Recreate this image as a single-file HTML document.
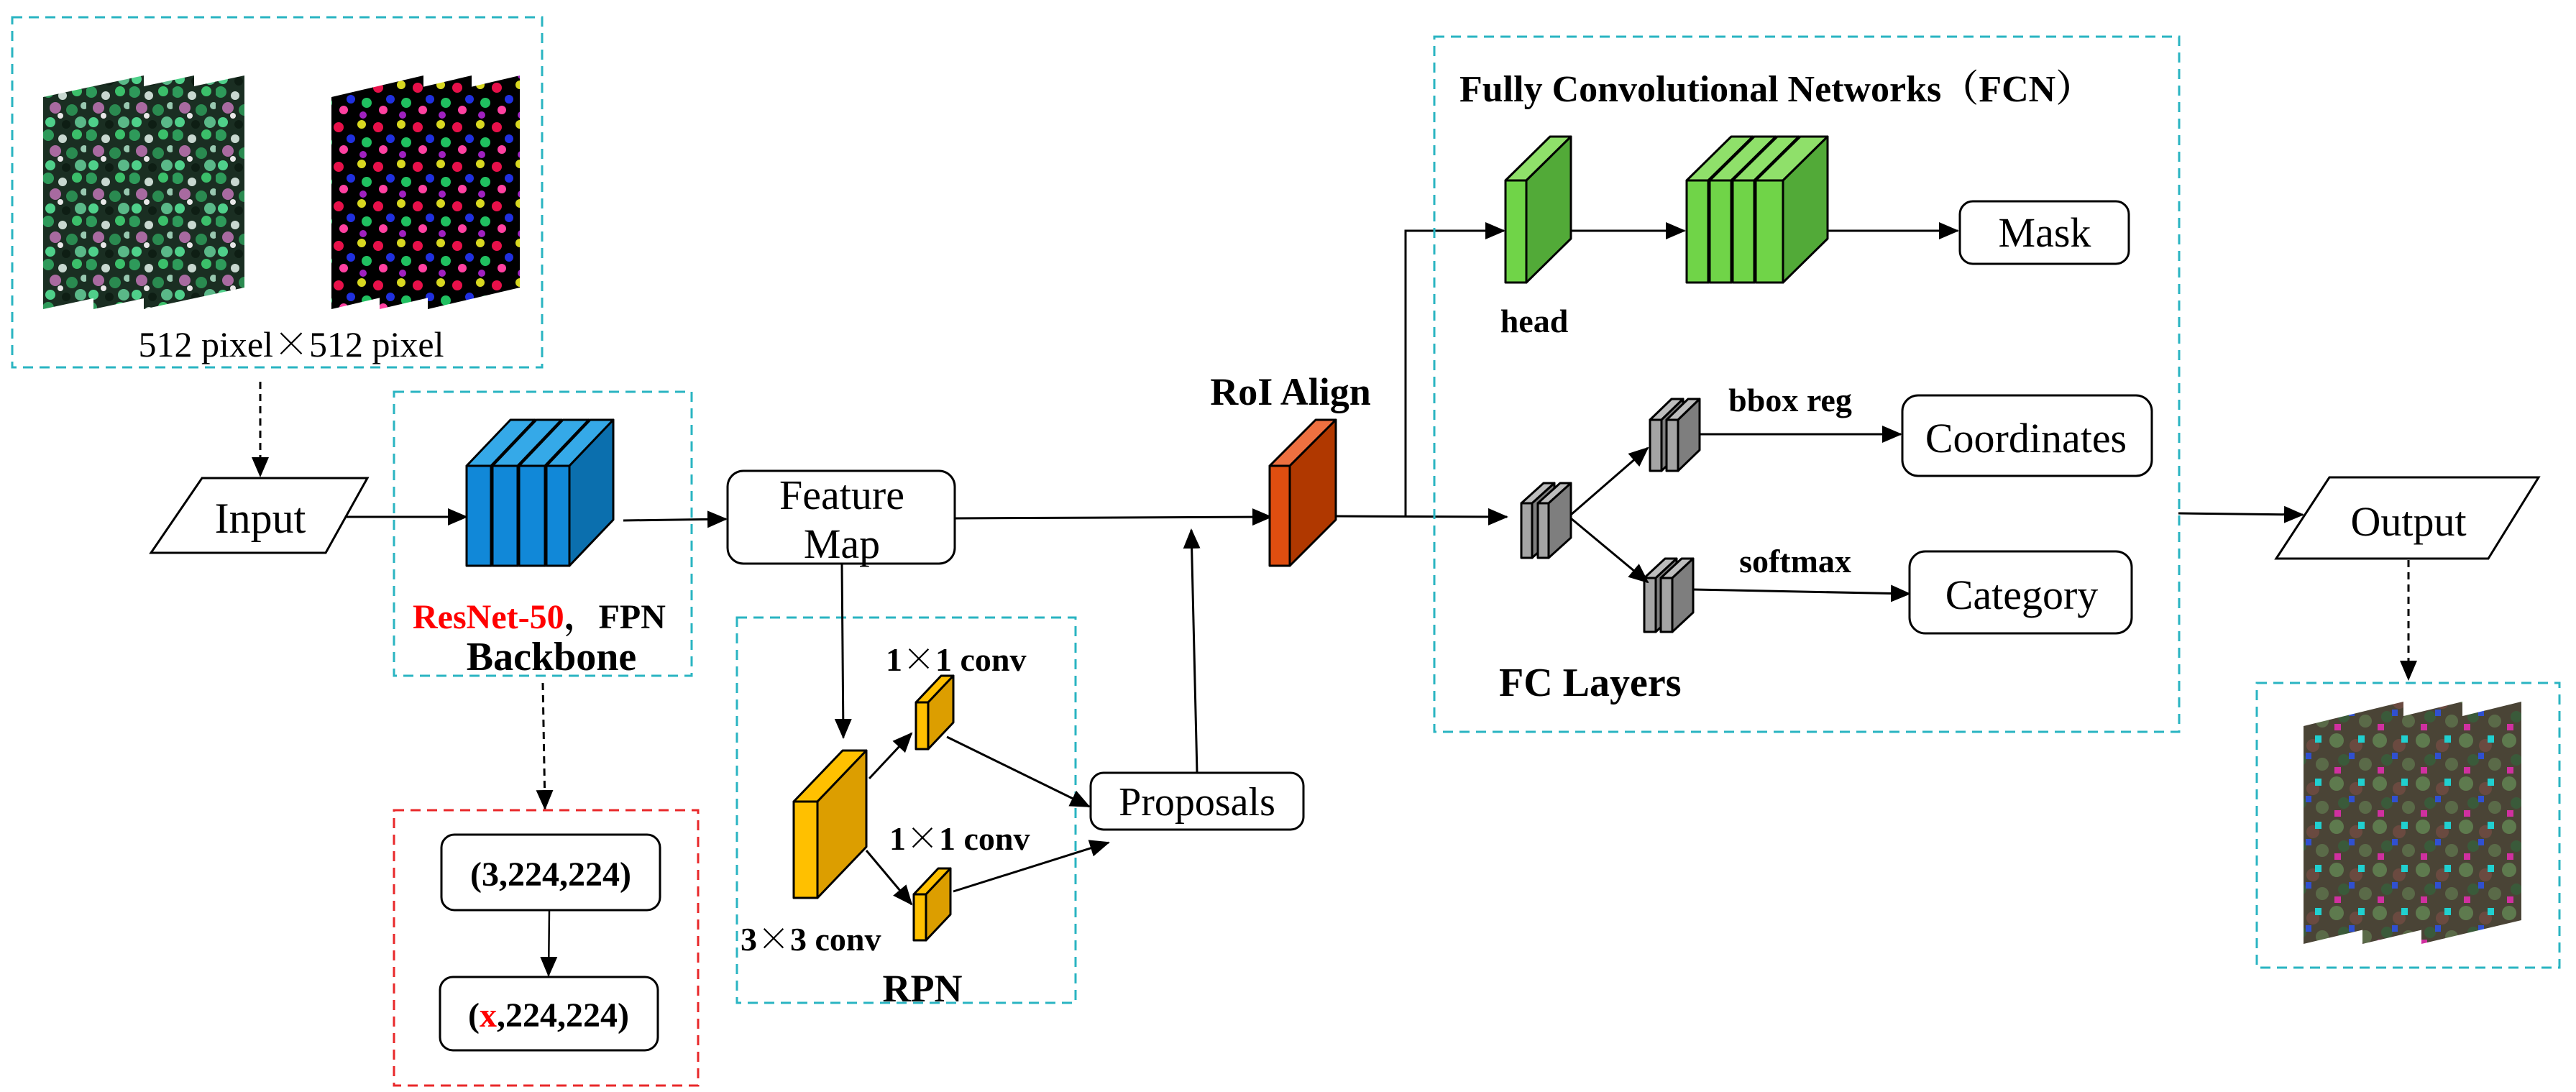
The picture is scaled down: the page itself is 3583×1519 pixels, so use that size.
<!DOCTYPE html>
<html><head><meta charset="utf-8"><style>
html,body{margin:0;padding:0;background:#fff;}
svg{display:block;}
svg text{font-family:"Liberation Serif","Noto Serif CJK SC",serif;fill:#000;}
.b{font-weight:bold;}
.cj{font-family:"Noto Serif CJK SC","Noto Sans CJK SC",serif;}
</style></head><body>
<svg width="3583" height="1519" viewBox="0 0 3583 1519" xmlns="http://www.w3.org/2000/svg" font-family="Liberation Serif, Noto Serif CJK SC, serif">
<defs>
<marker id="a" markerUnits="userSpaceOnUse" markerWidth="30" markerHeight="30" refX="26" refY="12" orient="auto">
<path d="M0,0 L28,12 L0,24 Z" fill="#000"/></marker>
<pattern id="p1" width="60" height="60" patternUnits="userSpaceOnUse">
<rect width="60" height="60" fill="#1a2e22"/>
<circle cx="7" cy="8" r="8" fill="#2e9a5a"/><circle cx="27" cy="13" r="6" fill="#c8d8d0"/>
<circle cx="47" cy="7" r="7" fill="#3bbf6a"/><circle cx="17" cy="30" r="8" fill="#a86aa0"/>
<circle cx="40" cy="33" r="8" fill="#2a8a50"/><circle cx="57" cy="27" r="5" fill="#98c8b0"/>
<circle cx="10" cy="50" r="7" fill="#4fd08a"/><circle cx="32" cy="53" r="6" fill="#0e1e14"/>
<circle cx="52" cy="50" r="8" fill="#5ab888"/><circle cx="24" cy="41" r="4" fill="#e8e8e8"/>
</pattern>
<pattern id="p2" width="55" height="55" patternUnits="userSpaceOnUse">
<rect width="55" height="55" fill="#000"/>
<circle cx="8" cy="8" r="6" fill="#d8d820"/><circle cx="31" cy="12" r="7" fill="#e8104a"/>
<circle cx="48" cy="28" r="6" fill="#2030e0"/><circle cx="15" cy="33" r="7" fill="#20c060"/>
<circle cx="38" cy="43" r="6" fill="#ff40a0"/><circle cx="10" cy="50" r="5" fill="#a020c0"/>
</pattern>
<pattern id="p3" width="60" height="60" patternUnits="userSpaceOnUse">
<rect width="60" height="60" fill="#4a4436"/>
<circle cx="10" cy="10" r="10" fill="#5e7a4e"/><circle cx="37" cy="17" r="9" fill="#6a4a40"/>
<circle cx="20" cy="37" r="8" fill="#3a5a3a"/><circle cx="50" cy="43" r="9" fill="#5a6a48"/>
<rect x="40" y="3" width="9" height="10" fill="#20d0d0"/><rect x="7" y="47" width="9" height="9" fill="#d030a0"/>
<rect x="27" y="27" width="8" height="9" fill="#3050d0"/>
</pattern>
</defs>

<rect x="17" y="24" width="737" height="487" fill="none" stroke="#2ab4c2" stroke-width="3" stroke-dasharray="14,9"/>
<polygon points="60,135 200,105 200,400 60,430" fill="url(#p1)"/>
<polygon points="130,135 270,105 270,400 130,430" fill="url(#p1)"/>
<polygon points="200,135 340,105 340,400 200,430" fill="url(#p1)"/>
<polygon points="461,135 589,105 589,400 461,430" fill="url(#p2)"/>
<polygon points="528,135 656,105 656,400 528,430" fill="url(#p2)"/>
<polygon points="595,135 723,105 723,400 595,430" fill="url(#p2)"/>
<text x="405" y="496" font-size="50" text-anchor="middle">512 pixel<tspan class="cj">×</tspan>512 pixel</text>
<line x1="362" y1="531" x2="362" y2="662" stroke="#000" stroke-width="3" stroke-dasharray="10,7" marker-end="url(#a)"/>

<polygon points="210,769 281,665 511,665 453,769" fill="#fff" stroke="#000" stroke-width="3"/>
<text x="362" y="741" font-size="60" text-anchor="middle">Input</text>
<line x1="482" y1="719" x2="649" y2="719" stroke="#000" stroke-width="3" marker-end="url(#a)"/>

<rect x="548" y="545" width="414" height="395" fill="none" stroke="#2ab4c2" stroke-width="3" stroke-dasharray="14,9"/>
<g stroke="#000" stroke-width="3" stroke-linejoin="round">
<rect x="649" y="648" width="34" height="139" fill="#1188d8"/><polygon points="649,648 710,584 744,584 683,648" fill="#35a9e8"/><polygon points="683,648 744,584 744,723 683,787" fill="#0b6fae"/>
<rect x="685" y="648" width="35" height="139" fill="#1188d8"/><polygon points="685,648 746,584 781,584 720,648" fill="#35a9e8"/><polygon points="720,648 781,584 781,723 720,787" fill="#0b6fae"/>
<rect x="722" y="648" width="36" height="139" fill="#1188d8"/><polygon points="722,648 783,584 819,584 758,648" fill="#35a9e8"/><polygon points="758,648 819,584 819,723 758,787" fill="#0b6fae"/>
<rect x="760" y="648" width="32" height="139" fill="#1188d8"/><polygon points="760,648 821,584 853,584 792,648" fill="#35a9e8"/><polygon points="792,648 853,584 853,723 792,787" fill="#0b6fae"/>
</g>
<text x="574" y="874" font-size="48" class="b"><tspan fill="#ff0000">ResNet-50</tspan><tspan class="cj">，</tspan>FPN</text>
<text x="767" y="932" font-size="56" class="b" text-anchor="middle">Backbone</text>
<line x1="867" y1="724" x2="1010" y2="722" stroke="#000" stroke-width="3" marker-end="url(#a)"/>
<line x1="755" y1="950" x2="758" y2="1125" stroke="#000" stroke-width="3" stroke-dasharray="10,7" marker-end="url(#a)"/>

<rect x="548" y="1127" width="423" height="383" fill="none" stroke="#e8282a" stroke-width="3" stroke-dasharray="14,9"/>
<rect x="614" y="1161" width="304" height="105" rx="18" fill="#fff" stroke="#000" stroke-width="3"/>
<text x="766" y="1232" font-size="48" class="b" text-anchor="middle">(3,224,224)</text>
<line x1="764" y1="1266" x2="763" y2="1357" stroke="#000" stroke-width="2.5" marker-end="url(#a)"/>
<rect x="612" y="1359" width="303" height="102" rx="18" fill="#fff" stroke="#000" stroke-width="3"/>
<text x="763" y="1428" font-size="48" class="b" text-anchor="middle">(<tspan fill="#ff0000">x</tspan>,224,224)</text>

<rect x="1012" y="655" width="316" height="129" rx="22" fill="#fff" stroke="#000" stroke-width="3"/>
<text x="1171" y="708" font-size="58" text-anchor="middle">Feature</text>
<text x="1171" y="776" font-size="58" text-anchor="middle">Map</text>
<line x1="1328" y1="721" x2="1768" y2="719" stroke="#000" stroke-width="3" marker-end="url(#a)"/>

<rect x="1025" y="859" width="471" height="536" fill="none" stroke="#2ab4c2" stroke-width="3" stroke-dasharray="14,9"/>
<line x1="1171" y1="784" x2="1173" y2="1026" stroke="#000" stroke-width="3" marker-end="url(#a)"/>
<g stroke="#000" stroke-width="3" stroke-linejoin="round">
<rect x="1104" y="1115" width="33" height="134" fill="#ffc000"/><polygon points="1104,1115 1172,1044 1205,1044 1137,1115" fill="#ffc000"/><polygon points="1137,1115 1205,1044 1205,1178 1137,1249" fill="#dc9e00"/>
<rect x="1274" y="977" width="17" height="65" fill="#ffc000"/><polygon points="1274,977 1309,940 1326,940 1291,977" fill="#ffc000"/><polygon points="1291,977 1326,940 1326,1005 1291,1042" fill="#dc9e00"/>
<rect x="1271" y="1244" width="17" height="64" fill="#ffc000"/><polygon points="1271,1244 1305,1208 1322,1208 1288,1244" fill="#ffc000"/><polygon points="1288,1244 1322,1208 1322,1272 1288,1308" fill="#dc9e00"/>
</g>
<line x1="1209" y1="1083" x2="1268" y2="1020" stroke="#000" stroke-width="3" marker-end="url(#a)"/>
<line x1="1205" y1="1183" x2="1268" y2="1258" stroke="#000" stroke-width="3" marker-end="url(#a)"/>
<line x1="1317" y1="1025" x2="1515" y2="1122" stroke="#000" stroke-width="3" marker-end="url(#a)"/>
<line x1="1326" y1="1240" x2="1542" y2="1172" stroke="#000" stroke-width="3" marker-end="url(#a)"/>
<text x="1232" y="933" font-size="46" class="b">1<tspan class="cj">×</tspan>1 conv</text>
<text x="1237" y="1182" font-size="46" class="b">1<tspan class="cj">×</tspan>1 conv</text>
<text x="1030" y="1322" font-size="46" class="b">3<tspan class="cj">×</tspan>3 conv</text>
<text x="1283" y="1393" font-size="54" class="b" text-anchor="middle">RPN</text>

<rect x="1517" y="1075" width="296" height="79" rx="18" fill="#fff" stroke="#000" stroke-width="3"/>
<text x="1665" y="1134" font-size="56" text-anchor="middle">Proposals</text>
<line x1="1665" y1="1075" x2="1657" y2="737" stroke="#000" stroke-width="3" marker-end="url(#a)"/>

<text x="1795" y="563" font-size="54" class="b" text-anchor="middle">RoI Align</text>
<g stroke="#000" stroke-width="3" stroke-linejoin="round">
<rect x="1766" y="648" width="28" height="139" fill="#e04e10"/><polygon points="1766,648 1830,584 1858,584 1794,648" fill="#ee7040"/><polygon points="1794,648 1858,584 1858,723 1794,787" fill="#b03800"/>
</g>
<line x1="1858" y1="718" x2="2096" y2="719" stroke="#000" stroke-width="3" marker-end="url(#a)"/>
<polyline points="1955,718 1955,321 2092,321" fill="none" stroke="#000" stroke-width="3" marker-end="url(#a)"/>

<rect x="1995" y="51" width="1036" height="967" fill="none" stroke="#2ab4c2" stroke-width="3" stroke-dasharray="14,9"/>
<text x="2030" y="141" font-size="52" class="b">Fully Convolutional Networks<tspan class="cj">（</tspan>FCN<tspan class="cj">）</tspan></text>
<g stroke="#000" stroke-width="3" stroke-linejoin="round">
<rect x="2094" y="251" width="29" height="142" fill="#70d448"/><polygon points="2094,251 2156,190 2185,190 2123,251" fill="#8fe06a"/><polygon points="2123,251 2185,190 2185,332 2123,393" fill="#52aa38"/>
<rect x="2346" y="251" width="30" height="142" fill="#70d448"/><polygon points="2346,251 2408,190 2438,190 2376,251" fill="#8fe06a"/><polygon points="2376,251 2438,190 2438,332 2376,393" fill="#52aa38"/>
<rect x="2378" y="251" width="30" height="142" fill="#70d448"/><polygon points="2378,251 2440,190 2470,190 2408,251" fill="#8fe06a"/><polygon points="2408,251 2470,190 2470,332 2408,393" fill="#52aa38"/>
<rect x="2410" y="251" width="30" height="142" fill="#70d448"/><polygon points="2410,251 2472,190 2502,190 2440,251" fill="#8fe06a"/><polygon points="2440,251 2502,190 2502,332 2440,393" fill="#52aa38"/>
<rect x="2442" y="251" width="38" height="142" fill="#70d448"/><polygon points="2442,251 2504,190 2542,190 2480,251" fill="#8fe06a"/><polygon points="2480,251 2542,190 2542,332 2480,393" fill="#52aa38"/>
</g>
<line x1="2186" y1="321" x2="2343" y2="321" stroke="#000" stroke-width="3" marker-end="url(#a)"/>
<line x1="2542" y1="321" x2="2723" y2="321" stroke="#000" stroke-width="3" marker-end="url(#a)"/>
<rect x="2726" y="280" width="235" height="87" rx="18" fill="#fff" stroke="#000" stroke-width="3"/>
<text x="2844" y="343" font-size="58" text-anchor="middle">Mask</text>
<text x="2134" y="462" font-size="46" class="b" text-anchor="middle">head</text>

<g stroke="#000" stroke-width="3" stroke-linejoin="round">
<rect x="2116" y="700" width="15" height="76" fill="#a4a4a4"/><polygon points="2116,700 2147,672 2162,672 2131,700" fill="#bdbdbd"/><polygon points="2131,700 2162,672 2162,748 2131,776" fill="#7e7e7e"/>
<rect x="2139" y="700" width="15" height="76" fill="#a4a4a4"/><polygon points="2139,700 2170,672 2185,672 2154,700" fill="#bdbdbd"/><polygon points="2154,700 2185,672 2185,748 2154,776" fill="#7e7e7e"/>
<rect x="2295" y="584" width="16" height="71" fill="#a4a4a4"/><polygon points="2295,584 2325,555 2341,555 2311,584" fill="#bdbdbd"/><polygon points="2311,584 2341,555 2341,626 2311,655" fill="#7e7e7e"/>
<rect x="2318" y="584" width="16" height="71" fill="#a4a4a4"/><polygon points="2318,584 2348,555 2364,555 2334,584" fill="#bdbdbd"/><polygon points="2334,584 2364,555 2364,626 2334,655" fill="#7e7e7e"/>
<rect x="2287" y="804" width="16" height="75" fill="#a4a4a4"/><polygon points="2287,804 2316,777 2332,777 2303,804" fill="#bdbdbd"/><polygon points="2303,804 2332,777 2332,852 2303,879" fill="#7e7e7e"/>
<rect x="2310" y="804" width="16" height="75" fill="#a4a4a4"/><polygon points="2310,804 2339,777 2355,777 2326,804" fill="#bdbdbd"/><polygon points="2326,804 2355,777 2355,852 2326,879" fill="#7e7e7e"/>
</g>
<line x1="2185" y1="716" x2="2292" y2="623" stroke="#000" stroke-width="3" marker-end="url(#a)"/>
<line x1="2185" y1="721" x2="2292" y2="810" stroke="#000" stroke-width="3" marker-end="url(#a)"/>
<line x1="2364" y1="604" x2="2644" y2="604" stroke="#000" stroke-width="3" marker-end="url(#a)"/>
<line x1="2355" y1="820" x2="2656" y2="826" stroke="#000" stroke-width="3" marker-end="url(#a)"/>
<text x="2490" y="572" font-size="46" class="b" text-anchor="middle">bbox reg</text>
<text x="2497" y="796" font-size="46" class="b" text-anchor="middle">softmax</text>
<rect x="2646" y="550" width="347" height="112" rx="22" fill="#fff" stroke="#000" stroke-width="3"/>
<text x="2818" y="629" font-size="58" text-anchor="middle">Coordinates</text>
<rect x="2656" y="767" width="309" height="114" rx="22" fill="#fff" stroke="#000" stroke-width="3"/>
<text x="2812" y="847" font-size="58" text-anchor="middle">Category</text>
<text x="2085" y="968" font-size="56" class="b">FC Layers</text>

<line x1="3030" y1="714" x2="3203" y2="716" stroke="#000" stroke-width="3" marker-end="url(#a)"/>
<polygon points="3166,777 3240,664 3531,664 3461,777" fill="#fff" stroke="#000" stroke-width="3"/>
<text x="3350" y="745" font-size="58" text-anchor="middle">Output</text>
<line x1="3350" y1="779" x2="3350" y2="945" stroke="#000" stroke-width="3" stroke-dasharray="10,7" marker-end="url(#a)"/>
<rect x="3139" y="950" width="421" height="396" fill="none" stroke="#2ab4c2" stroke-width="3" stroke-dasharray="14,9"/>
<polygon points="3204,1010 3343,976 3343,1280 3204,1313" fill="url(#p3)"/>
<polygon points="3286,1010 3425,976 3425,1280 3286,1313" fill="url(#p3)"/>
<polygon points="3368,1010 3507,976 3507,1280 3368,1313" fill="url(#p3)"/>
</svg>
</body></html>
